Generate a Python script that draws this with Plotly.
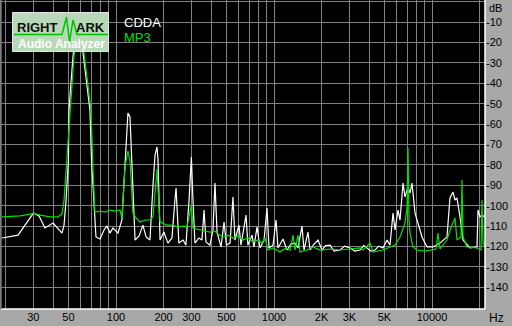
import plotly.graph_objects as go

# ---------------- data ----------------
cdda_freq = [19.0, 24.0, 30, 32.6, 35.5, 40, 45.5, 46.9, 48.3, 50, 50.4, 53.4, 55.8, 57.5, 59.2, 61.8,
             68.4, 70, 72.6, 74.7, 79.2, 84, 87.7, 91.6, 95.7, 103, 109, 114, 117.4, 119, 122.6, 126,
             132, 140, 148, 155, 164, 171.5, 176.6, 181.8, 184.5, 190, 201, 213, 226, 236, 240, 243,
             250, 266, 277, 290, 300, 307, 316, 335, 350, 361, 371, 393, 411, 423, 436, 462, 483, 500,
             527, 550, 566, 600, 618, 665, 684, 726, 747, 781, 816, 865, 903, 930, 986, 1030, 1060,
             1140, 1209, 1280, 1358, 1419, 1504, 1548, 1641, 1690, 1780, 1898, 2013, 2120, 2262, 2400,
             2617, 2800, 3027, 3250, 3502, 3700, 3879, 4100, 4357, 4600, 4897, 5190, 5422, 5665, 5832,
             6093, 6273, 6554, 6747, 7050, 7257, 7471, 7806, 8156, 8645, 9298, 10150, 11230, 12440,
             12990, 13580, 13980, 14390, 15030, 15710, 17390, 19270, 19550, 20120, 20720, 21640]
cdda_db = [-115.8, -114.4, -103.6, -105.0, -110.9, -108.5, -113.4, -109.5, -97.2, -77.6, -53.1, -27.1,
           -14.0, -10.0, -13.0, -25.2, -53.1, -77.6, -102.1, -115.3, -116.3, -111.9, -109.9, -113.4,
           -110.9, -113.4, -107.0, -77.6, -56.5, -54.6, -56.5, -82.5, -116.8, -114.8, -109.5, -115.3,
           -116.8, -89.9, -75.2, -71.2, -77.6, -116.8, -112.9, -118.3, -115.8, -97.2, -91.3, -99.7,
           -118.3, -116.8, -119.3, -97.2, -76.2, -97.2, -118.3, -115.8, -116.8, -102.1, -117.8,
           -119.3, -111.9, -88.9, -112.9, -120.2, -108.0, -119.3, -118.3, -95.7, -116.8, -109.5,
           -119.3, -104.6, -119.3, -114.4, -120.2, -110.4, -120.7, -116.8, -101.1, -120.7, -119.3,
           -107.0, -120.7, -116.3, -121.7, -118.8, -118.3, -120.7, -110.0, -121.7, -112.9, -121.7,
           -119.0, -116.8, -121.7, -119.5, -119.3, -122.2, -121.7, -119.8, -120.7, -122.2, -121.7,
           -119.5, -120.7, -122.2, -121.7, -119.8, -120.7, -116.8, -119.3, -103.6, -111.9, -102.1,
           -107.0, -88.9, -95.7, -90.8, -93.8, -88.9, -103.6, -108.5, -115.3, -120.2, -120.2,
           -118.3, -115.3, -96.2, -93.3, -97.2, -96.2, -105.5, -116.8, -120.7, -120.2, -102.1,
           -105.5, -104.6, -105.5]

mp3_freq = [19.0, 24.7, 28.6, 30, 33, 38.2, 43, 45.5, 46.9, 48.3, 50, 51.2, 54.2, 56.6, 58.3, 60,
            62.7, 69.5, 71.5, 73.6, 79.2, 85.2, 91.6, 98.5, 106, 109, 114, 119, 122.6, 126, 128, 134,
            142, 152.6, 164, 171.5, 176.6, 181.8, 184.5, 190, 210, 229.5, 247, 266, 281, 290, 300,
            307, 340, 366, 393, 423, 442, 475, 512, 550, 592, 637, 684, 736, 792, 840, 877, 916, 986,
            1091, 1191, 1263, 1319, 1358, 1419, 1461, 1618, 1766, 1955, 2262, 2617, 3027, 3502, 3659,
            4052, 4233, 4897, 5422, 5832, 6273, 6747, 6948, 7050, 7153, 7257, 7580, 8040, 9031, 9710,
            10600, 10920, 11230, 12440, 12990, 13980, 14390, 15260, 15480, 15710, 16650, 19270,
            20420, 20720, 21030, 21640]
mp3_db = [-105.5, -105.0, -104.1, -103.6, -104.6, -105.5, -105.5, -104.1, -97.2, -82.5, -67.8, -53.1,
          -27.1, -13.0, -10.0, -13.0, -25.2, -53.1, -82.5, -103.1, -102.6, -103.1, -102.1, -102.6,
          -102.1, -106.0, -81.0, -73.2, -77.6, -92.3, -103.6, -106.0, -108.0, -107.0, -107.0,
          -105.5, -92.3, -82.0, -92.3, -108.0, -109.5, -109.5, -110.4, -110.0, -110.4, -104.6,
          -99.7, -110.9, -111.9, -112.4, -112.9, -112.4, -113.9, -115.3, -114.4, -115.8, -114.8,
          -116.8, -115.8, -117.8, -116.8, -118.3, -115.8, -121.7, -120.7, -122.7, -120.7, -121.7,
          -114.4, -121.7, -114.4, -122.7, -121.7, -120.2, -121.7, -121.2, -121.7, -121.2, -120.7,
          -121.7, -118.3, -122.7, -121.7, -120.2, -119.3, -115.3, -108.5, -101.1, -71.7, -107.0,
          -113.4, -120.2, -121.7, -122.2, -121.7, -121.2, -113.4, -121.2, -116.8, -111.9, -106.0,
          -116.8, -115.3, -87.4, -115.3, -120.2, -120.7, -121.7, -97.2, -118.3, -120.2]

x_tick_vals = [20, 30, 40, 50, 60, 70, 80, 90, 100, 200, 300, 400, 500, 600, 700, 800, 900,
               1000, 2000, 3000, 4000, 5000, 6000, 7000, 8000, 9000, 10000, 20000]
x_tick_text = ["", "30", "", "50", "", "", "", "", "100", "200", "300", "", "500", "", "", "", "",
               "1000", "2K", "3K", "", "5K", "", "", "", "", "10000", ""]
y_tick_vals = [0, -10, -20, -30, -40, -50, -60, -70, -80, -90, -100, -110, -120, -130, -140]
y_tick_text = [""] + [str(v) for v in y_tick_vals[1:]]

# ---------------- layout geometry ----------------
W, H = 512, 326
ML, MR, MT, MB = 1, 27, 0, 17
PW, PH = W - ML - MR, H - MT - MB


def px(x):
    return (x - ML) / PW


def py(y):
    return 1 - (y - MT) / PH


FONT = "Liberation Sans, Arial, sans-serif"
BG = "#a8a8a8"
GRID = "#808080"

fig = go.Figure()
fig.add_trace(go.Scatter(x=cdda_freq, y=cdda_db, mode="lines", name="CDDA",
                         line=dict(color="#ffffff", width=1.2)))
fig.add_trace(go.Scatter(x=mp3_freq, y=mp3_db, mode="lines", name="MP3",
                         line=dict(color="#00e000", width=1.2)))

shapes = [
    # borders
    dict(type="line", xref="paper", yref="paper", x0=0, x1=1, y0=0, y1=0,
         line=dict(color="#ffffff", width=1.5)),
    dict(type="line", xref="paper", yref="paper", x0=1, x1=1, y0=0, y1=1,
         line=dict(color="#ffffff", width=1.5)),
    dict(type="line", xref="paper", yref="paper", x0=0, x1=0, y0=0, y1=1,
         line=dict(color="#707070", width=1.5)),
    # logo box
    dict(type="rect", xref="paper", yref="paper", x0=px(12.5), x1=px(108.5), y0=py(51.5), y1=py(12.5),
         fillcolor="#b7d9b7", line=dict(color="#e6e6e6", width=1), layer="above"),
    # logo wave line
    dict(type="path", xref="paper", yref="paper", layer="above",
         path="M {} {} L {} {} L {} {} L {} {} L {} {} L {} {} L {} {}".format(
             px(14), py(34.5), px(62), py(34.5), px(66.5), py(17), px(69.5), py(42),
             px(73), py(20), px(77), py(34.5), px(108), py(34.5)),
         line=dict(color="#00c000", width=1.5)),
]

annotations = [
    dict(text="<b>RIGHT</b>", x=px(15), y=py(27.5), xref="paper", yref="paper", xanchor="left",
         yanchor="middle", showarrow=False, font=dict(family=FONT, size=13, color="#101010")),
    dict(text="<b>ARK</b>", x=px(107), y=py(27.5), xref="paper", yref="paper", xanchor="right",
         yanchor="middle", showarrow=False, font=dict(family=FONT, size=13, color="#101010")),
    dict(text="<b>Audio Analyzer</b>", x=px(61), y=py(44), xref="paper", yref="paper",
         xanchor="center", yanchor="middle", showarrow=False,
         font=dict(family=FONT, size=12, color="#ffffff")),
    dict(text="CDDA", x=px(122), y=py(22.5), xref="paper", yref="paper", xanchor="left",
         yanchor="middle", showarrow=False, font=dict(family=FONT, size=13, color="#ffffff")),
    dict(text="MP3", x=px(122), y=py(38), xref="paper", yref="paper", xanchor="left",
         yanchor="middle", showarrow=False, font=dict(family=FONT, size=13, color="#00e000")),
    dict(text="dB", x=px(487), y=py(8), xref="paper", yref="paper", xanchor="left",
         yanchor="middle", showarrow=False, font=dict(family=FONT, size=11, color="#000000")),
    dict(text="Hz", x=px(487), y=py(318), xref="paper", yref="paper", xanchor="left",
         yanchor="middle", showarrow=False, font=dict(family=FONT, size=12, color="#000000")),
]

fig.update_layout(
    width=W, height=H,
    margin=dict(l=ML, r=MR, t=MT, b=MB, pad=0),
    paper_bgcolor=BG, plot_bgcolor="#000000",
    showlegend=False,
    shapes=shapes, annotations=annotations,
    font=dict(family=FONT, size=11, color="#000000"),
)
fig.update_xaxes(type="log", range=[1.2722, 4.3354], tickmode="array", tickvals=x_tick_vals,
                 ticktext=x_tick_text, showgrid=True, gridcolor=GRID, gridwidth=1, ticks="",
                 zeroline=False, showline=False, tickfont=dict(family=FONT, size=11, color="#000000"),
                 ticklabelstandoff=0)
fig.update_yaxes(range=[-150.6, 0.8], side="right", tickmode="array", tickvals=y_tick_vals,
                 ticktext=y_tick_text, showgrid=True, gridcolor=GRID, gridwidth=1, ticks="",
                 zeroline=False, showline=False, tickfont=dict(family=FONT, size=11, color="#000000"),
                 ticklabelstandoff=0)

fig.write_html("out.html")
